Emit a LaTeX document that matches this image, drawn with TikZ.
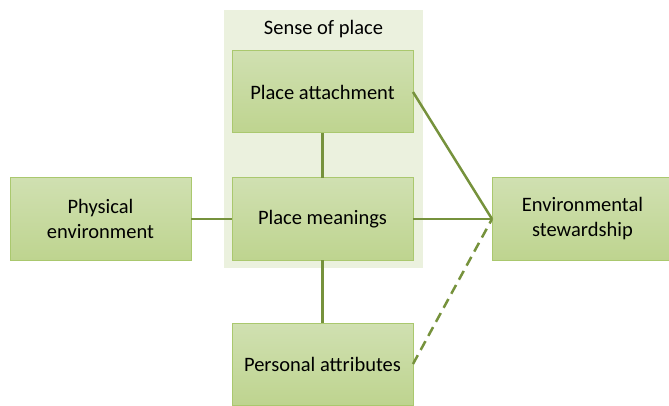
\documentclass[tikz,border=0pt]{standalone}
\usepackage{fontspec}
\setmainfont{Carlito}
\usetikzlibrary{positioning,fit}
\definecolor{myboxtop}{RGB}{208,224,177}
\definecolor{myboxbot}{RGB}{190,212,143}
\definecolor{myborder}{RGB}{170,200,110}
\definecolor{myline}{RGB}{118,146,60}
\definecolor{myback}{RGB}{235,241,222}
\pgfdeclarelayer{background}
\pgfsetlayers{background,main}
\begin{document}
\begin{tikzpicture}[x=1pt,y=-1pt,node distance=45pt,outer sep=0pt,
            greenb/.style={
                draw=myborder,
                line width=1pt,
                top color=myboxtop,
                bottom color=myboxbot,
                minimum width=181pt,
                minimum height=82pt,
                align=center,
                font=\fontsize{20.5}{25}\selectfont},
            link/.style={draw=myline,line width=2.5pt},
        ]
        \useasboundingbox (0,0) rectangle (669,406);

        \node[greenb] (Mean) at (322.5,219) {Place meanings};
        \node[greenb,above=of Mean] (Attach) {Place attachment};
        \node[greenb,below=63pt of Mean] (Pers) {Personal attributes};
        \node[greenb,left=41pt of Mean] (Phys) {Physical\\environment};
        \node[greenb,right=79pt of Mean] (Stew) {Environmental\\stewardship};

        \draw[link] (Attach) -- (Mean);
        \draw[link] (Phys) -- (Mean);
        \draw[link] (Mean) -- (Stew);
        \draw[link] (Mean) -- (Pers);
        \draw[link] (Attach.east) -- (Stew.west);
        \draw[link,dash pattern=on 10pt off 6pt] (Pers.east) -- (Stew.west);

        \begin{pgfonlayer}{background}
            \node[fill=myback,inner sep=0pt,fit={(224,10) (423,268)}] (Sense) {};
        \end{pgfonlayer}
        \node[font=\fontsize{20.5}{25}\selectfont,below=7pt of Sense.north] (SenseLbl) {Sense of place};
    \end{tikzpicture}
\end{document}
